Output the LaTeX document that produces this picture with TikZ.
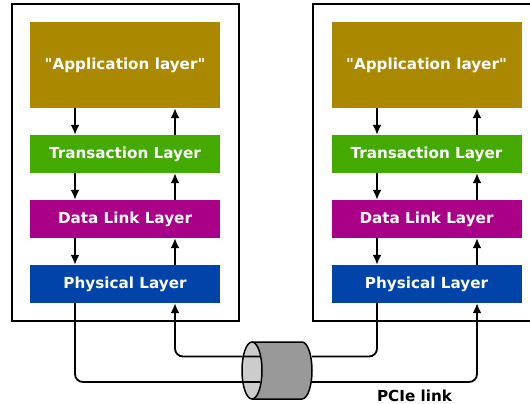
\documentclass[tikz,border=0pt]{standalone}
\usepackage{fontspec}
\setmainfont{DejaVu Sans}[Ligatures=TeXOff]
\usetikzlibrary{arrows.meta}
\definecolor{appcol}{HTML}{AA8800}
\definecolor{tracol}{HTML}{44AA00}
\definecolor{dllcol}{HTML}{AA0088}
\definecolor{phycol}{HTML}{0044AA}
\begin{document}
\begin{tikzpicture}[x=1pt,y=-1pt,
  frame/.style={draw=black,line width=2pt,minimum width=227pt,minimum height=317pt,inner sep=0pt},
  layer/.style={minimum width=190pt,minimum height=38pt,inner sep=0pt,text=white,
    font=\fontsize{15.2}{18}\selectfont\bfseries},
  arr/.style={line width=1.8pt,-{Latex[length=10pt,width=9pt]}},
  wire/.style={line width=1.8pt,rounded corners=8pt},
]
\useasboundingbox (0,0) rectangle (530,404);

% device frames
\node[frame] (fL) at (125.5,162.5) {};
\node[frame] (fR) at (426.5,162.5) {};

% layer stacks
\foreach \s/\x in {L/125,R/426.5}{
  \node[layer,fill=appcol,minimum height=86pt] (a\s) at (\x,65) {"Application layer"};
  \node[layer,fill=tracol] (t\s) at (\x,154) {Transaction Layer};
  \node[layer,fill=dllcol] (d\s) at (\x,219) {Data Link Layer};
  \node[layer,fill=phycol] (p\s) at (\x,284) {Physical Layer};
}

% columns of the down and up paths
\coordinate (dnL) at (75,0);
\coordinate (upL) at (175,0);
\coordinate (dnR) at (377,0);
\coordinate (upR) at (477,0);

\foreach \s in {L,R}{
  \draw[arr] (a\s.south -| dn\s) -- (t\s.north -| dn\s);
  \draw[arr] (t\s.south -| dn\s) -- (d\s.north -| dn\s);
  \draw[arr] (d\s.south -| dn\s) -- (p\s.north -| dn\s);
  \draw[arr] (t\s.north -| up\s) -- (a\s.south -| up\s);
  \draw[arr] (d\s.north -| up\s) -- (t\s.south -| up\s);
  \draw[arr] (p\s.north -| up\s) -- (d\s.south -| up\s);
}

% cable
\fill[fill=black!40] (252,342) -- (302,342)
  arc[start angle=-90,end angle=90,x radius=10,y radius=28.5] -- (252,399) -- cycle;
\draw[line width=1.5pt] (252,342) -- (302,342)
  arc[start angle=-90,end angle=90,x radius=10,y radius=28.5] -- (252,399);
\draw[line width=1.5pt,fill=black!20] (252,370.5) ellipse[x radius=10,y radius=28.5];

\coordinate (inHi) at (260,356.5);
\coordinate (inLo) at (260,382);
\coordinate (outHi) at (312,356.5);
\coordinate (outLo) at (312,382);

\draw[wire] (pL.south -| dnL) |- (inLo);
\draw[wire,arr] (inHi) -| (pL.south -| upL);
\draw[wire] (pR.south -| dnR) |- (outHi);
\draw[wire,arr] (outLo) -| (pR.south -| upR);

\node[anchor=base,font=\fontsize{15.2}{18}\selectfont\bfseries] (lnk) at (414.5,401) {PCIe link};
\end{tikzpicture}
\end{document}
